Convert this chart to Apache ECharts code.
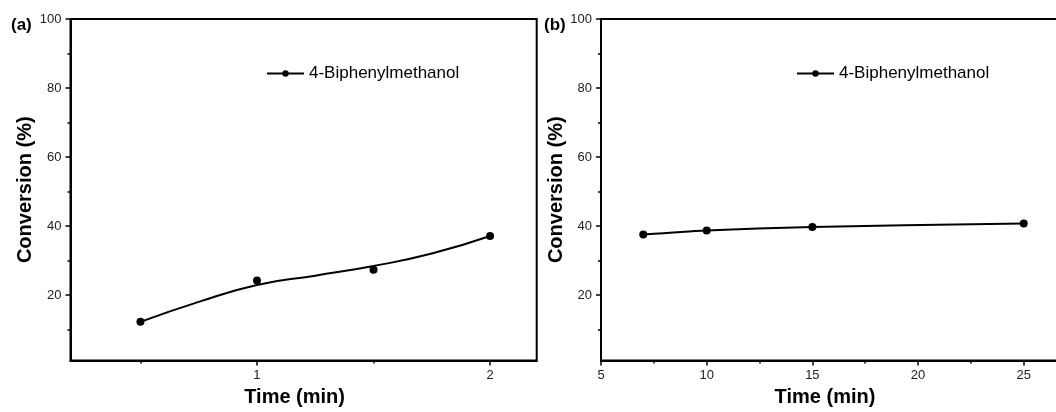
<!DOCTYPE html>
<html>
<head>
<meta charset="utf-8">
<script src="https://cdn.jsdelivr.net/npm/echarts@6/dist/echarts.min.js"></script>
<style>
html,body{margin:0;padding:0;background:#fff;}
#main{width:1056px;height:412px;}
</style>
</head>
<body>
<div id="main"></div>
<script>
// ---- data ----
const seriesName = '4-Biphenylmethanol';
// panel (a)
const timeA = [0.5, 1, 1.5, 2];
const convA = [12.2, 24.2, 27.3, 37.1];
// fitted curve in panel (a)
const fitTimeA = [0.5, 0.75, 1, 1.25, 1.5, 1.75, 2];
const fitConvA = [12.2, 18.0, 22.9, 25.6, 28.4, 32.0, 37.1];
// panel (b)
const timeB = [7, 10, 15, 25];
const convB = [37.5, 38.7, 39.7, 40.7];
// ticks
const yMajor = [20, 40, 60, 80, 100];
const yMinor = [10, 30, 50, 70, 90];
const xMajorA = [1, 2];
const xMinorA = [0.5, 1.5];
const xMajorB = [5, 10, 15, 20, 25];
const xMinorB = [7.5, 12.5, 17.5, 22.5];

const FONT = "'Liberation Sans', Arial, sans-serif";
const BLACK = '#000';

function pairs(xs, ys){ return xs.map((x,i)=>[x, ys[i]]); }

function xMain(grid, min, max, ticks, name, nameShift){
  return {
    type:'value', gridIndex:grid, min:min, max:max, position:'bottom',
    name:name, nameLocation:'middle', nameGap:27,
    nameTextStyle:{fontFamily:FONT, fontSize:20, fontWeight:'bold', color:BLACK, padding:[0, nameShift, 0, 0]},
    axisLine:{show:true, onZero:false, lineStyle:{color:BLACK, width:2}},
    axisTick:{show:true, inside:false, length:5, lineStyle:{color:BLACK, width:1.5}, customValues:ticks},
    axisLabel:{show:true, margin:8, fontFamily:FONT, fontSize:13, color:'#222', customValues:ticks},
    splitLine:{show:false}
  };
}
function xMinorAxis(grid, min, max, ticks){
  return {
    type:'value', gridIndex:grid, min:min, max:max, position:'bottom', offset:0,
    axisLine:{show:false, onZero:false},
    axisTick:{show:true, inside:false, length:3, lineStyle:{color:BLACK, width:1.5}, customValues:ticks},
    axisLabel:{show:false},
    splitLine:{show:false}
  };
}
function yMain(grid){
  return {
    type:'value', gridIndex:grid, min:1, max:100, position:'left',
    name:'Conversion (%)', nameLocation:'middle', nameGap:33, nameRotate:90,
    nameTextStyle:{fontFamily:FONT, fontSize:20, fontWeight:'bold', color:BLACK},
    axisLine:{show:true, onZero:false, lineStyle:{color:BLACK, width:2}},
    axisTick:{show:true, inside:false, length:5, lineStyle:{color:BLACK, width:1.5}, customValues:yMajor},
    axisLabel:{show:true, margin:9, fontFamily:FONT, fontSize:13, color:'#222', customValues:yMajor},
    splitLine:{show:false}
  };
}
function yMinorAxis(grid){
  return {
    type:'value', gridIndex:grid, min:1, max:100, position:'left', offset:0,
    axisLine:{show:false, onZero:false},
    axisTick:{show:true, inside:false, length:3, lineStyle:{color:BLACK, width:1.5}, customValues:yMinor},
    axisLabel:{show:false},
    splitLine:{show:false}
  };
}

const chart = echarts.init(document.getElementById('main'), null, {renderer:'canvas'});
chart.setOption({
  animation:false,
  backgroundColor:'#fff',
  grid:[
    {left:70.5, right:519.3, top:19, bottom:51.5, outerBoundsMode:'none', containLabel:false,
     show:true, borderColor:BLACK, borderWidth:2, backgroundColor:'transparent'},
    {left:601, width:465, top:19, bottom:51.5, outerBoundsMode:'none', containLabel:false,
     show:true, borderColor:BLACK, borderWidth:2, backgroundColor:'transparent'}
  ],
  xAxis:[
    xMain(0, 0.2, 2.2, xMajorA, 'Time (min)', 18),
    xMinorAxis(0, 0.2, 2.2, xMinorA),
    xMain(1, 5, 27, xMajorB, 'Time (min)', 17),
    xMinorAxis(1, 5, 27, xMinorB)
  ],
  yAxis:[ yMain(0), yMinorAxis(0), yMain(1), yMinorAxis(1) ],
  legend:[
    {left:266, top:65, padding:0, itemWidth:37, itemHeight:8, itemGap:5,
     data:[seriesName], textStyle:{fontFamily:FONT, fontSize:17, color:BLACK}, selectedMode:false},
    {left:796, top:65, padding:0, itemWidth:37, itemHeight:8, itemGap:5,
     data:[seriesName], textStyle:{fontFamily:FONT, fontSize:17, color:BLACK}, selectedMode:false}
  ],
  graphic:[
    {type:'text', left:11, top:17, style:{text:'(a)', font:"bold 17px 'Liberation Sans', Arial", fill:BLACK}},
    {type:'text', left:544, top:17, style:{text:'(b)', font:"bold 17px 'Liberation Sans', Arial", fill:BLACK}}
  ],
  series:[
    {name:seriesName, type:'line', xAxisIndex:0, yAxisIndex:0, data:pairs(fitTimeA, fitConvA),
     smooth:0.5, showSymbol:false, symbol:'circle', symbolSize:8,
     lineStyle:{color:BLACK, width:2}, itemStyle:{color:BLACK, opacity:1}, z:3},
    {name:'Measured (a)', type:'scatter', xAxisIndex:0, yAxisIndex:0, data:pairs(timeA, convA),
     symbol:'circle', symbolSize:8, itemStyle:{color:BLACK, opacity:1}, z:4},
    {name:seriesName, type:'line', xAxisIndex:2, yAxisIndex:2, data:pairs(timeB, convB),
     smooth:0.3, showSymbol:true, symbol:'circle', symbolSize:8,
     lineStyle:{color:BLACK, width:2}, itemStyle:{color:BLACK, opacity:1}, z:4}
  ]
});
</script>
</body>
</html>
